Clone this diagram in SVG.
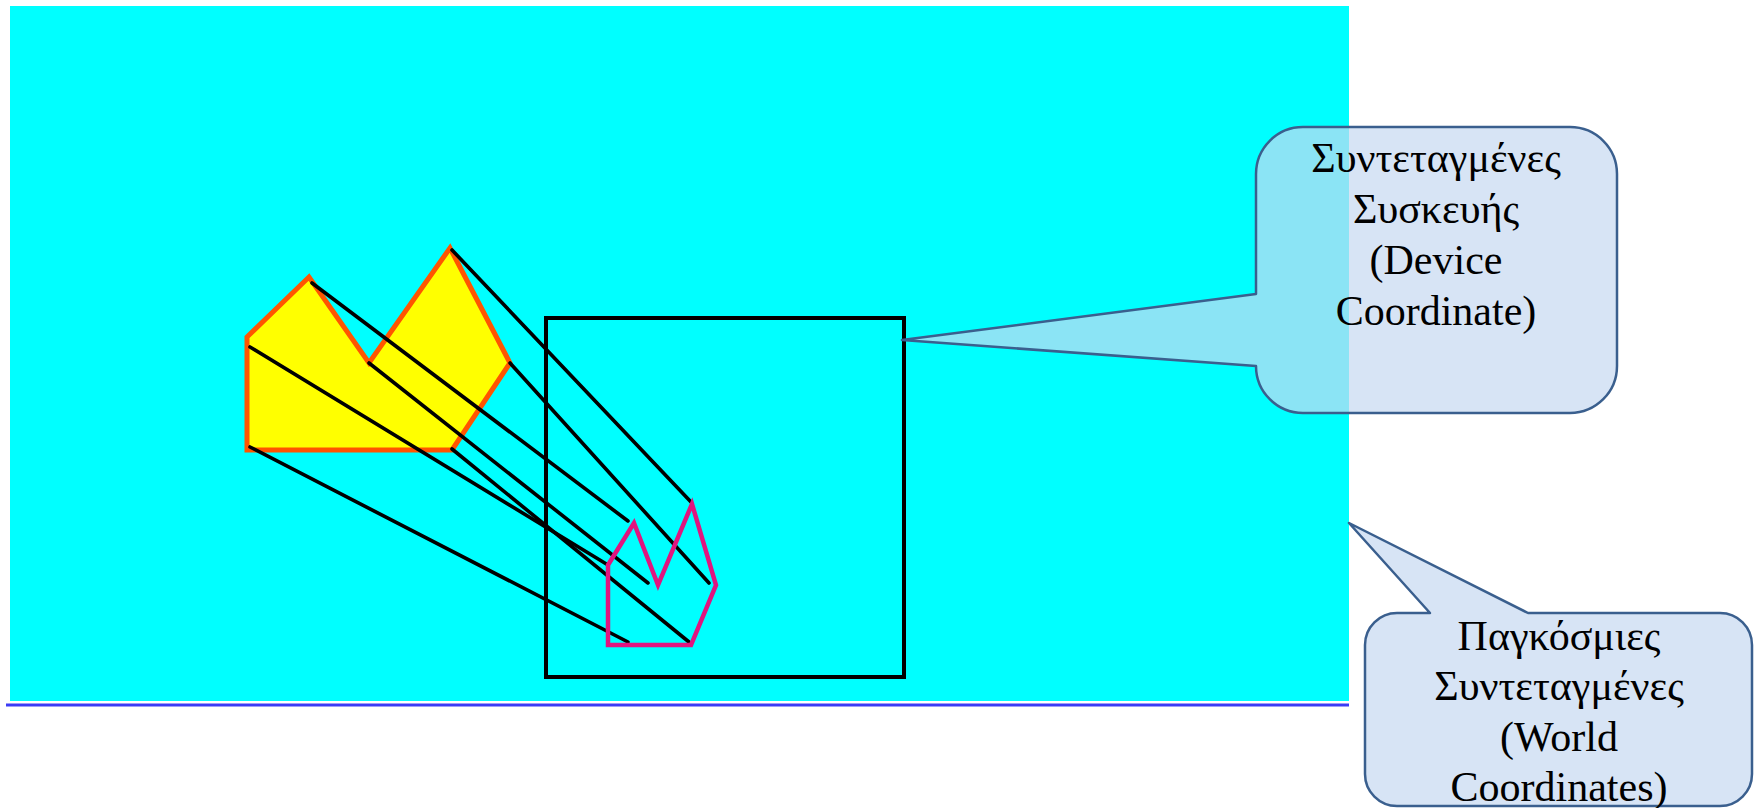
<svg xmlns="http://www.w3.org/2000/svg" width="1754" height="808" viewBox="0 0 1754 808">
<style>
.proj{stroke:#000;stroke-width:3.6;fill:none;stroke-linecap:round}
.callout{fill:#C6D9F1;fill-opacity:0.7;stroke:#3A5F8E;stroke-width:2.5;stroke-linejoin:round}
.lbl{font-family:"Liberation Serif","Times New Roman",serif;font-size:42px;fill:#000;text-anchor:middle}
</style>
<rect width="1754" height="808" fill="#fff"/>
<g id="world-area">
<rect x="10" y="6" width="1339" height="695" fill="#00FFFF"/>
<line x1="6" y1="705" x2="1349" y2="705" stroke="#3C3CF5" stroke-width="3"/>
</g>
<g id="world-shape">
<polygon points="247,337 309,277 369,363 450,248 510,363 452,450 247,450" fill="#FFFF00" stroke="#FF5500" stroke-width="5" stroke-linejoin="miter"/>
</g>
<g id="connectors">
<line class="proj" x1="250" y1="347" x2="608" y2="565"/>
<line class="proj" x1="312" y1="283" x2="628" y2="521"/>
<line class="proj" x1="369" y1="363" x2="648" y2="583"/>
<line class="proj" x1="452" y1="250" x2="691" y2="502"/>
<line class="proj" x1="510" y1="363" x2="709" y2="583"/>
<line class="proj" x1="452" y1="449" x2="689" y2="642"/>
<line class="proj" x1="250" y1="447" x2="628" y2="642"/>
</g>
<g id="viewport">
<rect x="546" y="318" width="358" height="359" fill="none" stroke="#000" stroke-width="4"/>
</g>
<g id="device-shape">
<polygon points="608,565 634,523 658,585 692,504 716,585 691,645 608,645" fill="none" stroke="#E0157F" stroke-width="4.5" stroke-linejoin="miter"/>
</g>
<g id="callout-device">
<path class="callout" d="M1303,127 H1570 A47,47 0 0 1 1617,174 V366 A47,47 0 0 1 1570,413 H1303 A47,47 0 0 1 1256,366 L902,340 L1256,294 V174 A47,47 0 0 1 1303,127 Z"/>
<text class="lbl" x="1436" y="172">Συντεταγμένες</text>
<text class="lbl" x="1436" y="223">Συσκευής</text>
<text class="lbl" x="1436" y="274">(Device</text>
<text class="lbl" x="1436" y="325">Coordinate)</text>
</g>
<g id="callout-world">
<path class="callout" d="M1397,613 H1430 L1349,523 L1528,613 H1720 A32,32 0 0 1 1752,645 V774 A32,32 0 0 1 1720,806 H1397 A32,32 0 0 1 1365,774 V645 A32,32 0 0 1 1397,613 Z"/>
<text class="lbl" x="1559" y="650">Παγκόσμιες</text>
<text class="lbl" x="1559" y="700">Συντεταγμένες</text>
<text class="lbl" x="1559" y="751">(World</text>
<text class="lbl" x="1559" y="801">Coordinates)</text>
</g>
</svg>
